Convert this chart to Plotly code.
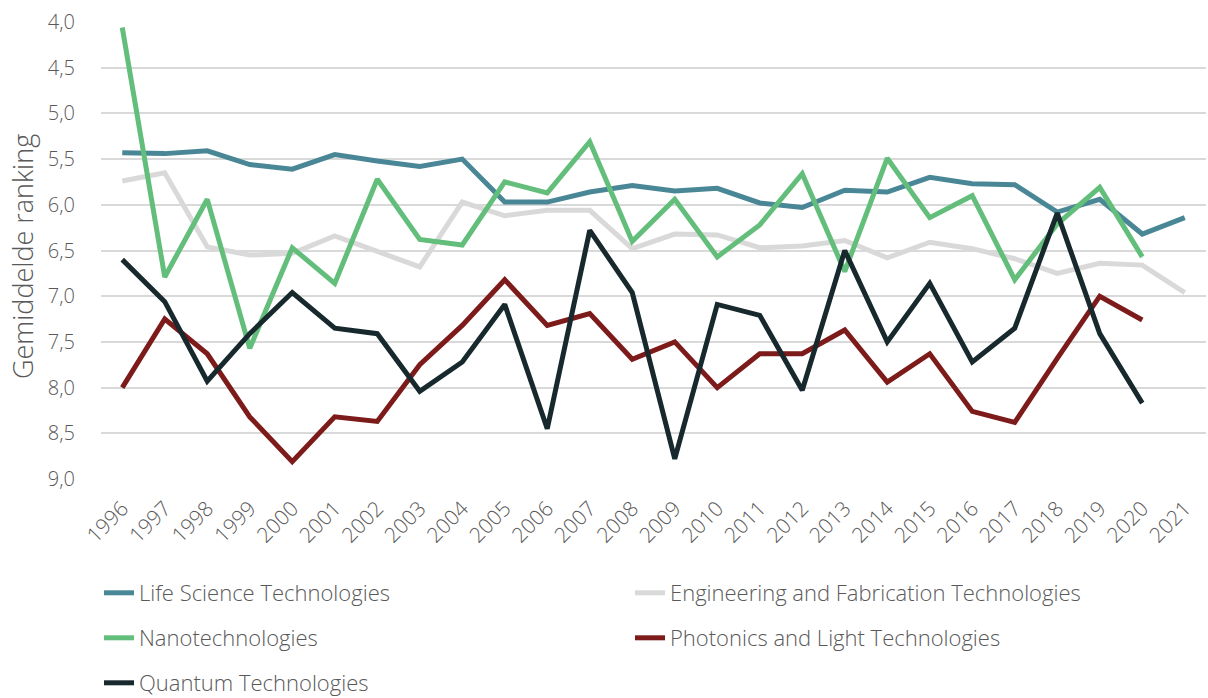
import plotly.graph_objects as go

years = [str(y) for y in range(1996, 2022)]

life_science = [5.43, 5.44, 5.41, 5.56, 5.61, 5.45, 5.52, 5.58, 5.50, 5.97, 5.97, 5.86, 5.79,
                5.85, 5.82, 5.98, 6.03, 5.84, 5.86, 5.70, 5.77, 5.78, 6.08, 5.94, 6.32, 6.14]
engineering = [5.74, 5.65, 6.46, 6.55, 6.53, 6.34, 6.51, 6.68, 5.97, 6.12, 6.06, 6.06, 6.48,
               6.32, 6.33, 6.47, 6.45, 6.39, 6.58, 6.41, 6.48, 6.59, 6.75, 6.64, 6.66, 6.96]
nano = [4.06, 6.79, 5.94, 7.57, 6.47, 6.86, 5.72, 6.38, 6.44, 5.75, 5.87, 5.31, 6.40,
        5.94, 6.57, 6.22, 5.66, 6.73, 5.49, 6.14, 5.90, 6.82, 6.21, 5.81, 6.57, None]
photonics = [8.00, 7.25, 7.63, 8.32, 8.81, 8.32, 8.37, 7.75, 7.32, 6.82, 7.32, 7.19, 7.69,
             7.50, 8.00, 7.63, 7.63, 7.37, 7.94, 7.63, 8.26, 8.38, 7.68, 7.00, 7.26, None]
quantum = [6.60, 7.06, 7.93, 7.41, 6.96, 7.35, 7.41, 8.04, 7.72, 7.09, 8.45, 6.28, 6.96,
           8.78, 7.09, 7.21, 8.03, 6.50, 7.50, 6.86, 7.72, 7.35, 6.09, 7.41, 8.17, None]

series = [
    ("Life Science Technologies", life_science, "#4A8796", "legend"),
    ("Engineering and Fabrication Technologies", engineering, "#D9D9D9", "legend"),
    ("Nanotechnologies", nano, "#63BE7B", "legend2"),
    ("Photonics and Light Technologies", photonics, "#7D1A1A", "legend2"),
    ("Quantum Technologies", quantum, "#17292D", "legend3"),
]

order = [1, 0, 2, 3, 4]
fig = go.Figure()
for i in order:
    name, vals, col, lg = series[i]
    fig.add_trace(go.Scatter(
        x=years, y=vals, name=name, mode="lines",
        line=dict(color=col, width=5), legend=lg, connectgaps=False,
        legendrank=i,
    ))

font_family = "Open Sans"
txt_col = "#595959"

legend_common = dict(
    orientation="h", xanchor="left", yanchor="middle",
    xref="container", yref="container",
    entrywidth=486, entrywidthmode="pixels",
    font=dict(family=font_family, size=22, color=txt_col, weight=300),
    bgcolor="rgba(0,0,0,0)", traceorder="normal",
)

W, H = 1208, 698
ml, mr, mt, mb = 101, 2, 22, 219
pw, ph = W - ml - mr, H - mt - mb

lx = 99 / W
fig.update_layout(
    width=W, height=H,
    margin=dict(l=ml, r=mr, t=mt, b=mb),
    paper_bgcolor="white", plot_bgcolor="white",
    separators=",.",
    font=dict(family=font_family, color=txt_col, weight=300),
    showlegend=True,
    legend=dict(x=lx, y=1 - 593 / H, **legend_common),
    legend2=dict(x=lx, y=1 - 638 / H, **legend_common),
    legend3=dict(x=lx, y=1 - 683 / H, **legend_common),
    xaxis=dict(
        type="category", range=[-0.5, 25.5], tickangle=-45,
        showgrid=False, showline=False, zeroline=False,
        ticks="outside", ticklen=8, tickcolor="rgba(0,0,0,0)",
        tickfont=dict(family=font_family, size=21, color=txt_col, weight=300),
        automargin=False,
    ),
    yaxis=dict(
        range=[9, 4], tickvals=[4, 4.5, 5, 5.5, 6, 6.5, 7, 7.5, 8, 8.5, 9],
        tickformat=".1f", showgrid=True, gridcolor="#D9D9D9", gridwidth=1.5,
        zeroline=False, showline=False,
        ticks="outside", ticklen=21, tickcolor="rgba(0,0,0,0)",
        tickfont=dict(family=font_family, size=20, color=txt_col, weight=300),
        automargin=False,
    ),
    annotations=[dict(
        text="Gemiddelde ranking", textangle=-90,
        xref="paper", yref="paper",
        x=(22 - ml) / pw, y=1 - (257 - mt) / ph,
        xanchor="center", yanchor="middle", showarrow=False,
        font=dict(family=font_family, size=27, color=txt_col, weight=300),
    )],
)

fig.write_html(
    "out.html",
    config={"displayModeBar": False},
    post_script="document.body.style.margin='0';document.body.style.overflow='hidden';",
)
